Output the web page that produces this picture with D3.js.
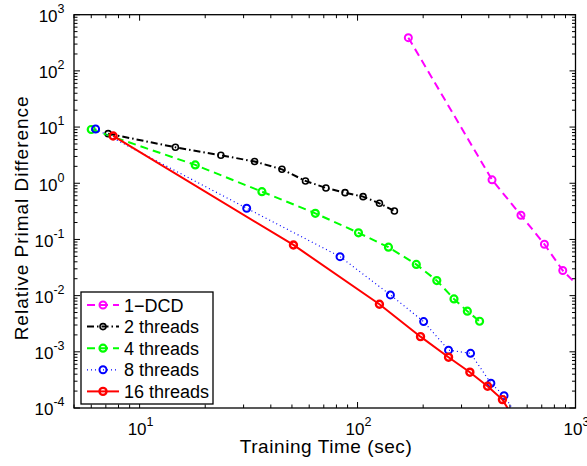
<!DOCTYPE html>
<html>
<head>
<meta charset="utf-8">
<script src="https://cdn.jsdelivr.net/npm/d3@7"></script>
<style>
  body { margin: 0; background: #fff; }
  text { font-family: "Liberation Sans", Arial, Helvetica, sans-serif; fill: #000; }
</style>
</head>
<body>
<div id="chart"></div>
<script>
// series values (training time in sec, relative primal difference)
const dcdTime = [171, 414, 562, 720, 874, 1100];
const dcdDiff = [390, 1.15, 0.27, 0.082, 0.028, 0.0115];

const t2Time = [7.17, 14.6, 23.6, 33.7, 45.0, 57.7, 71.6, 87.6, 106, 126, 147.6];
const t2Diff = [7.63, 4.37, 3.15, 2.44, 1.77, 1.10, 0.825, 0.68, 0.578, 0.44, 0.321];

const t4Time = [6.0, 18.0, 36.4, 64.0, 101, 138.6, 186, 231, 277, 319, 363];
const t4Diff = [9.06, 2.12, 0.709, 0.292, 0.131, 0.0727, 0.0359, 0.0185, 0.00873, 0.00528, 0.0035];

const t8Time = [6.28, 31.0, 83.1, 141.5, 201, 261.5, 330, 409, 470, 555];
const t8Diff = [9.25, 0.359, 0.0494, 0.0103, 0.00345, 0.00107, 0.00094, 0.000276, 0.000166, 0.000061];

const t16Time = [7.56, 50.8, 126, 194.5, 261.5, 327.6, 395, 462, 520];
const t16Diff = [6.95, 0.0798, 0.00703, 0.00186, 0.000802, 0.000434, 0.000244, 0.000141, 0.000067];

const xTicks = [10, 100, 1000];
const yTicks = [1e-4, 1e-3, 1e-2, 1e-1, 1, 10, 100, 1000];

const series = [
  { name: '1\u2212DCD', t: dcdTime, v: dcdDiff, color: '#ff00ff', dash: '8,5', r: 3.5, sw: 2, mw: 2 },
  { name: '2 threads', t: t2Time, v: t2Diff, color: '#000000', dash: '7,3,1.5,3', r: 3, sw: 2, mw: 1.6 },
  { name: '4 threads', t: t4Time, v: t4Diff, color: '#00ff00', dash: '8,5', r: 3.5, sw: 2, mw: 2.2 },
  { name: '8 threads', t: t8Time, v: t8Diff, color: '#0000ff', dash: '1,3', r: 3.5, sw: 1.2, mw: 2 },
  { name: '16 threads', t: t16Time, v: t16Diff, color: '#ff0000', dash: null, r: 3.5, sw: 2, mw: 2.4 }
];

const width = 587, height = 466;
const mLeft = 74, mRight = 575.5, mTop = 14.7, mBottom = 408;

const svg = d3.select('#chart').append('svg').attr('width', width).attr('height', height);

const x = d3.scaleLog().domain([5, 1000]).range([mLeft, mRight]);
const y = d3.scaleLog().domain([1e-4, 1000]).range([mBottom, mTop]);

svg.append('defs').append('clipPath').attr('id', 'plotClip')
  .append('rect').attr('x', mLeft).attr('y', mTop).attr('width', mRight - mLeft).attr('height', mBottom - mTop);

// ticks on all four sides, pointing inwards
const xMinor = [];
for (let e = 0; e <= 2; e++) for (let k = 1; k <= 9; k++) {
  const v = k * Math.pow(10, e);
  if (v >= 5 && v <= 1000) xMinor.push(v);
}
const yMinor = [];
for (let e = -4; e <= 2; e++) for (let k = 2; k <= 9; k++) yMinor.push(k * Math.pow(10, e));

const tk = svg.append('g').attr('stroke', '#000').attr('stroke-width', 1);
xMinor.forEach(function (v) {
  const len = xTicks.includes(v) ? 6 : 3.5;
  tk.append('line').attr('x1', x(v)).attr('x2', x(v)).attr('y1', mBottom).attr('y2', mBottom - len);
  tk.append('line').attr('x1', x(v)).attr('x2', x(v)).attr('y1', mTop).attr('y2', mTop + len);
});
yTicks.concat(yMinor).forEach(function (v) {
  const len = yTicks.includes(v) ? 6 : 3.5;
  tk.append('line').attr('y1', y(v)).attr('y2', y(v)).attr('x1', mLeft).attr('x2', mLeft + len);
  tk.append('line').attr('y1', y(v)).attr('y2', y(v)).attr('x1', mRight).attr('x2', mRight - len);
});

// tick labels as 10^n
xTicks.forEach(function (v) {
  const t = svg.append('text').attr('x', x(v) + 1).attr('y', 435).attr('text-anchor', 'middle')
    .style('font-size', '17px');
  t.append('tspan').text('10');
  t.append('tspan').attr('dy', -9).style('font-size', '12.5px').text(Math.round(Math.log10(v)));
});
yTicks.forEach(function (v) {
  const t = svg.append('text').attr('x', 64.5).attr('y', y(v) + 7.3).attr('text-anchor', 'end')
    .style('font-size', '17px');
  t.append('tspan').text('10');
  t.append('tspan').attr('dy', -9).style('font-size', '12.5px').text(Math.round(Math.log10(v)));
});

// data
const plot = svg.append('g').attr('clip-path', 'url(#plotClip)');
const line = d3.line().x(d => x(d[0])).y(d => y(d[1]));

series.forEach(function (s) {
  const pts = s.t.map((t, i) => [t, s.v[i]]);
  plot.append('path').datum(pts).attr('d', line)
    .attr('fill', 'none').attr('stroke', s.color).attr('stroke-width', s.sw)
    .attr('stroke-dasharray', s.dash);
  plot.selectAll(null).data(pts).enter().append('circle')
    .attr('cx', d => x(d[0])).attr('cy', d => y(d[1])).attr('r', s.r)
    .attr('fill', 'none').attr('stroke', s.color).attr('stroke-width', s.mw);
});

// frame
svg.append('rect').attr('x', mLeft).attr('y', mTop).attr('width', mRight - mLeft).attr('height', mBottom - mTop)
  .attr('fill', 'none').attr('stroke', '#000').attr('stroke-width', 1.3);

// axis titles
svg.append('text').attr('x', (mLeft + mRight) / 2 + 1).attr('y', 453).attr('text-anchor', 'middle')
  .attr('textLength', 172).style('font-size', '19px').text('Training Time (sec)');
svg.append('text').attr('transform', 'translate(28,' + ((mTop + mBottom) / 2 + 7) + ') rotate(-90)')
  .attr('text-anchor', 'middle').attr('textLength', 244).style('font-size', '19px')
  .text('Relative Primal Difference');

// legend
const lg = svg.append('g');
lg.append('rect').attr('x', 81).attr('y', 292).attr('width', 132).attr('height', 112)
  .attr('fill', '#fff').attr('stroke', '#000').attr('stroke-width', 1.3);
series.forEach(function (s, i) {
  const cy = 305 + i * 21.6;
  lg.append('line').attr('x1', 87).attr('x2', 119).attr('y1', cy).attr('y2', cy)
    .attr('stroke', s.color).attr('stroke-width', s.sw).attr('stroke-dasharray', s.dash);
  lg.append('circle').attr('cx', 103).attr('cy', cy).attr('r', s.r)
    .attr('fill', 'none').attr('stroke', s.color).attr('stroke-width', s.mw);
  lg.append('text').attr('x', 124).attr('y', cy + 6.5).style('font-size', '18px').text(s.name);
});
</script>
</body>
</html>
